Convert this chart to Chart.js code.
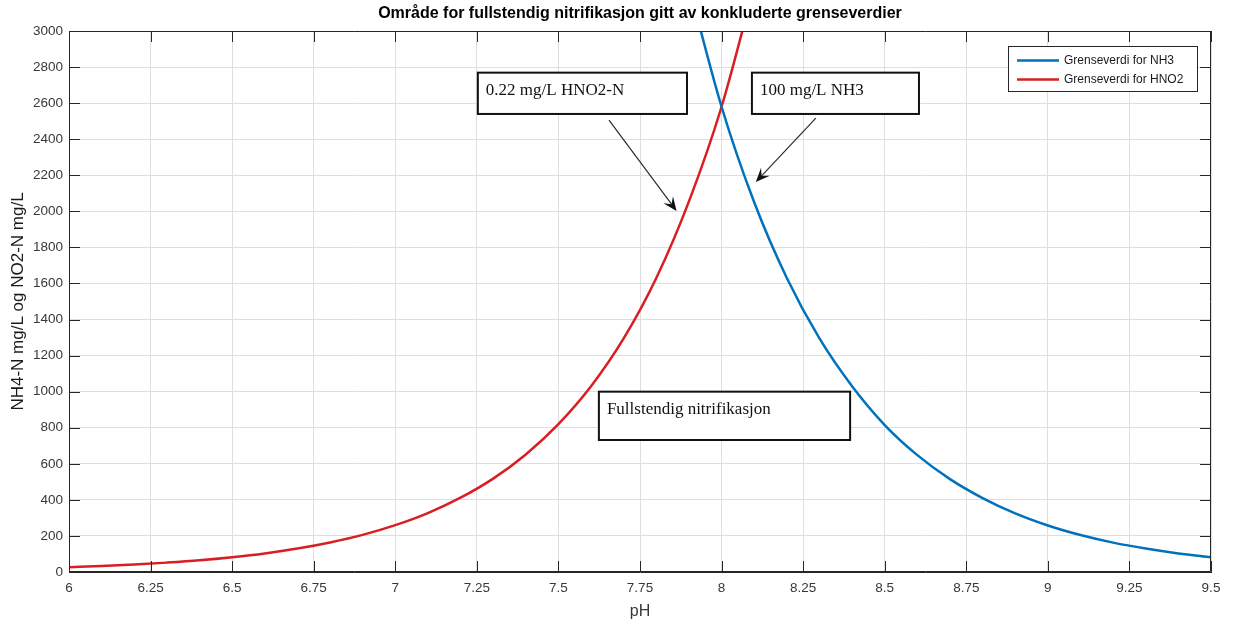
<!DOCTYPE html>
<html><head><meta charset="utf-8">
<script src="https://cdn.jsdelivr.net/npm/chart.js@4/dist/chart.umd.min.js"></script>
<style>html,body{margin:0;padding:0;background:#fff}#wrap{width:1236px;height:628px}</style>
</head><body><div id="wrap"><canvas id="c" width="1236" height="628"></canvas></div>
<script>
const chartTitle = 'Område for fullstendig nitrifikasjon gitt av konkluderte grenseverdier';
const xAxisTitle = 'pH';
const yAxisTitle = 'NH4-N mg/L og NO2-N mg/L';
const seriesNames = ['Grenseverdi for NH3', 'Grenseverdi for HNO2'];

const nh3PH     = [7.9, 8.0, 8.1, 8.2, 8.3, 8.4, 8.5, 8.6, 8.7, 8.8, 8.9, 9.0, 9.1, 9.2, 9.3, 9.4, 9.5];
const nh3Values = [3250, 2580, 2050, 1630, 1295, 1030, 815, 648, 515, 410, 325, 258, 205, 163, 130, 103, 82];

const hno2PH     = [6.0, 6.1, 6.2, 6.3, 6.4, 6.5, 6.6, 6.7, 6.8, 6.9, 7.0, 7.1, 7.2, 7.3, 7.4, 7.5, 7.6, 7.7, 7.8, 7.9, 8.0, 8.1];
const hno2Values = [27, 33, 41, 52, 65, 82, 103, 130, 164, 206, 260, 327, 412, 518, 652, 820, 1030, 1295, 1630, 2055, 2580, 3250];

const xTickValues = [6, 6.25, 6.5, 6.75, 7, 7.25, 7.5, 7.75, 8, 8.25, 8.5, 8.75, 9, 9.25, 9.5];
const xTickLabels = ['6', '6.25', '6.5', '6.75', '7', '7.25', '7.5', '7.75', '8', '8.25', '8.5', '8.75', '9', '9.25', '9.5'];
const yTickValues = [0, 200, 400, 600, 800, 1000, 1200, 1400, 1600, 1800, 2000, 2200, 2400, 2600, 2800, 3000];
const yTickLabels = ['0', '200', '400', '600', '800', '1000', '1200', '1400', '1600', '1800', '2000', '2200', '2400', '2600', '2800', '3000'];

const annotationTexts = ['0.22 mg/L HNO2-N', '100 mg/L NH3', 'Fullstendig nitrifikasjon'];

// annotation placement (data coordinates)
const annotationBoxes = [
  { text: annotationTexts[0], x0: 7.253, x1: 7.894, y0: 2540, y1: 2769 },
  { text: annotationTexts[1], x0: 8.093, x1: 8.605, y0: 2540, y1: 2769 },
  { text: annotationTexts[2], x0: 7.624, x1: 8.394, y0: 732, y1: 1000 }
];
const annotationArrows = [
  { from: [7.655, 2506], to: [7.862, 2002] },
  { from: [8.289, 2517], to: [8.105, 2163] }
];

const AXIS_COLOR = '#262626';
const TICK_COLOR = '#383838';
const GRID_COLOR = '#dedede';
const COLORS = ['#0072BD', '#D81E23'];
const SANS = '"Liberation Sans", Arial, Helvetica, sans-serif';
const SERIF = '"Liberation Serif", "Times New Roman", serif';

Chart.defaults.font.family = SANS;

const toPoints = (xs, ys) => xs.map((x, i) => ({ x: x, y: ys[i] }));

const matlabPlugin = {
  id: 'matlabPlugin',
  afterDatasetsDraw(chart) {
    const ctx = chart.ctx;
    const a = chart.chartArea;
    const xs = chart.scales.x, ys = chart.scales.y;
    const TL = 11;
    ctx.save();
    // box
    ctx.strokeStyle = AXIS_COLOR;
    ctx.lineWidth = 1;
    ctx.beginPath();
    ctx.moveTo(a.left + 0.5, a.top + 0.5);
    ctx.lineTo(a.right - 0.5, a.top + 0.5);
    ctx.lineTo(a.right - 0.5, a.bottom - 0.5);
    ctx.lineTo(a.left + 0.5, a.bottom - 0.5);
    ctx.closePath();
    ctx.stroke();
    // inward ticks
    ctx.beginPath();
    xTickValues.forEach(v => {
      const px = Math.round(xs.getPixelForValue(v)) + 0.5;
      ctx.moveTo(px, a.bottom); ctx.lineTo(px, a.bottom - TL);
      ctx.moveTo(px, a.top); ctx.lineTo(px, a.top + TL);
    });
    yTickValues.forEach(v => {
      const py = Math.round(ys.getPixelForValue(v)) + 0.5;
      ctx.moveTo(a.left, py); ctx.lineTo(a.left + TL, py);
      ctx.moveTo(a.right, py); ctx.lineTo(a.right - TL, py);
    });
    ctx.stroke();

    // annotation boxes
    annotationBoxes.forEach(b => {
      const x0 = xs.getPixelForValue(b.x0), x1 = xs.getPixelForValue(b.x1);
      const y0 = ys.getPixelForValue(b.y1), y1 = ys.getPixelForValue(b.y0);
      ctx.fillStyle = '#ffffff';
      ctx.fillRect(x0, y0, x1 - x0, y1 - y0);
      ctx.strokeStyle = '#111111';
      ctx.lineWidth = 2;
      ctx.strokeRect(x0, y0, x1 - x0, y1 - y0);
      ctx.fillStyle = '#111111';
      ctx.font = '17px ' + SERIF;
      ctx.textBaseline = 'middle';
      ctx.textAlign = 'left';
      ctx.fillText(b.text, x0 + 8, y0 + 18);
    });
    // arrows
    annotationArrows.forEach(ar => {
      const fx = xs.getPixelForValue(ar.from[0]), fy = ys.getPixelForValue(ar.from[1]);
      const tx = xs.getPixelForValue(ar.to[0]), ty = ys.getPixelForValue(ar.to[1]);
      const dx = tx - fx, dy = ty - fy, len = Math.hypot(dx, dy);
      const ux = dx / len, uy = dy / len, nx = -uy, ny = ux;
      const L = 14, W = 6;
      ctx.strokeStyle = '#2a2a2a';
      ctx.lineWidth = 1.2;
      ctx.beginPath();
      ctx.moveTo(fx, fy);
      ctx.lineTo(tx - ux * L * 0.6, ty - uy * L * 0.6);
      ctx.stroke();
      ctx.fillStyle = '#111111';
      ctx.beginPath();
      ctx.moveTo(tx, ty);
      ctx.lineTo(tx - ux * L + nx * W, ty - uy * L + ny * W);
      ctx.lineTo(tx - ux * L * 0.6, ty - uy * L * 0.6);
      ctx.lineTo(tx - ux * L - nx * W, ty - uy * L - ny * W);
      ctx.closePath();
      ctx.fill();
    });

    // legend
    const lw = 189, lh = 45;
    const lx = a.right - 14 - lw, ly = a.top + 15;
    ctx.fillStyle = '#ffffff';
    ctx.fillRect(lx, ly, lw, lh);
    ctx.strokeStyle = AXIS_COLOR;
    ctx.lineWidth = 1;
    ctx.strokeRect(lx + 0.5, ly + 0.5, lw, lh);
    chart.data.datasets.forEach((ds, i) => {
      const cy = ly + 14.5 + i * 19;
      ctx.strokeStyle = ds.borderColor;
      ctx.lineWidth = 2.5;
      ctx.beginPath();
      ctx.moveTo(lx + 9, cy); ctx.lineTo(lx + 51, cy);
      ctx.stroke();
      ctx.fillStyle = '#1a1a1a';
      ctx.font = '12px ' + SANS;
      ctx.textAlign = 'left';
      ctx.textBaseline = 'middle';
      ctx.fillText(ds.label, lx + 56, cy);
    });
    ctx.restore();
  }
};

new Chart(document.getElementById('c'), {
  type: 'line',
  data: {
    datasets: [
      { label: seriesNames[0], data: toPoints(nh3PH, nh3Values), borderColor: COLORS[0], borderWidth: 2.5, pointRadius: 0, cubicInterpolationMode: 'monotone', fill: false },
      { label: seriesNames[1], data: toPoints(hno2PH, hno2Values), borderColor: COLORS[1], borderWidth: 2.5, pointRadius: 0, cubicInterpolationMode: 'monotone', fill: false }
    ]
  },
  options: {
    responsive: false,
    devicePixelRatio: 1,
    animation: false,
    layout: { padding: { left: 0, right: 25, top: 0, bottom: 0 } },
    plugins: {
      legend: { display: false },
      tooltip: { enabled: false },
      title: {
        display: true, text: chartTitle, fullSize: false, color: '#000000',
        font: { family: SANS, size: 16, weight: 'bold' },
        padding: { top: 4, bottom: 7.8 }
      }
    },
    scales: {
      x: {
        type: 'linear', min: 6, max: 9.5,
        afterBuildTicks: s => { s.ticks = xTickValues.map(v => ({ value: v })); },
        afterFit: s => { s.height = 56; },
        ticks: {
          autoSkip: false, maxRotation: 0, padding: 8, color: TICK_COLOR,
          font: { size: 13.5 },
          callback: v => { const i = xTickValues.indexOf(v); return i >= 0 ? xTickLabels[i] : ''; }
        },
        grid: { color: GRID_COLOR, drawTicks: false, lineWidth: 1 },
        border: { display: true, color: AXIS_COLOR, width: 1 },
        title: { display: true, text: xAxisTitle, color: TICK_COLOR, font: { size: 16 }, padding: { top: 0, bottom: 6.4 } }
      },
      y: {
        type: 'linear', min: 0, max: 3000,
        afterBuildTicks: s => { s.ticks = yTickValues.map(v => ({ value: v })); },
        afterFit: s => { s.width = 69; },
        ticks: {
          autoSkip: false, padding: 6, color: TICK_COLOR,
          font: { size: 13.5 },
          callback: v => { const i = yTickValues.indexOf(v); return i >= 0 ? yTickLabels[i] : ''; }
        },
        grid: { color: GRID_COLOR, drawTicks: false, lineWidth: 1 },
        border: { display: true, color: AXIS_COLOR, width: 1 },
        title: { display: true, text: yAxisTitle, color: '#1a1a1a', font: { size: 17 }, padding: { top: 7.8, bottom: 0 } }
      }
    }
  },
  plugins: [matlabPlugin]
});
</script>
</body></html>
